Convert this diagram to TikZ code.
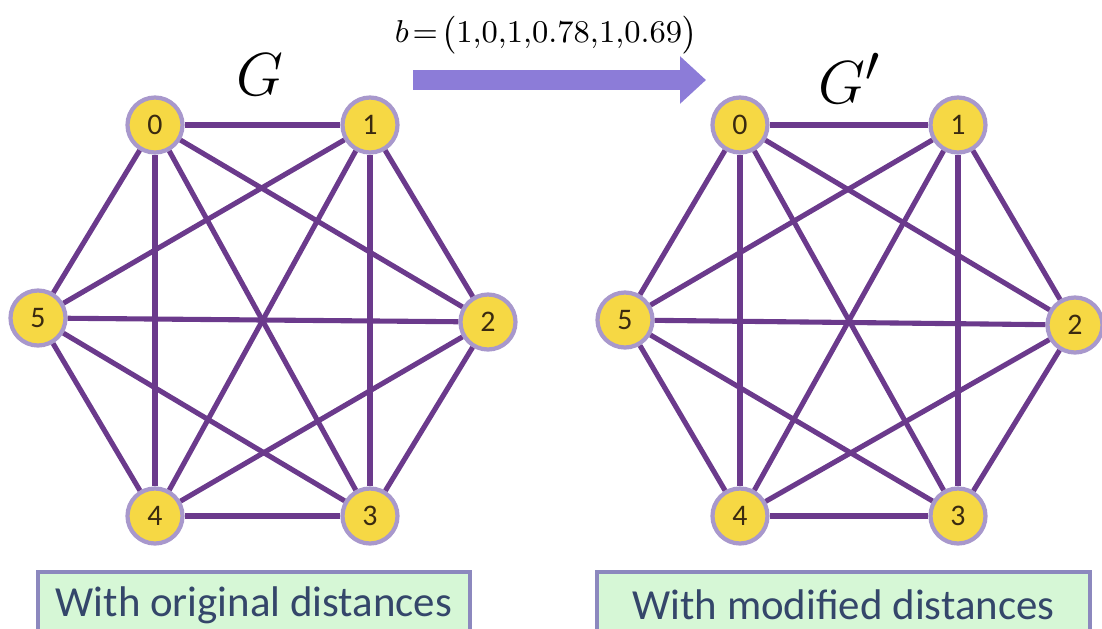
\documentclass[tikz,border=0pt]{standalone}
\usepackage{amsmath}
\usepackage{fontspec}
\setsansfont{Carlito}
\usepackage{xcolor}
\usetikzlibrary{arrows.meta}

\definecolor{edgepurple}{HTML}{6B3A8C}
\definecolor{nodeyellow}{HTML}{F6D844}
\definecolor{nodering}{HTML}{A898CC}
\definecolor{numbrown}{HTML}{3A2A10}
\definecolor{arrowblue}{HTML}{8C7CD8}
\definecolor{boxgreen}{HTML}{D6F7D6}
\definecolor{boxrim}{HTML}{8C88BE}
\definecolor{captext}{HTML}{34466A}

\begin{document}
\begin{tikzpicture}[
  vertex/.style={circle, fill=nodeyellow, draw=nodering, line width=1.2pt,
    minimum size=0.55cm, inner sep=0pt, text=numbrown,
    font=\sffamily\fontsize{8.5}{9}\selectfont},
  edge/.style={edgepurple, line width=1.45pt},
  caption/.style={draw=boxrim, fill=boxgreen, line width=0.9pt,
    minimum height=0.66cm, inner sep=0pt, text=captext,
    font=\sffamily\fontsize{12.2}{13}\selectfont}
]
  \clip (0,0) rectangle (11.02,6.28);

  % Left graph G: six vertices on a hexagon
  \node[vertex] (a0) at (1.55,5.03) {0};
  \node[vertex] (a1) at (3.70,5.03) {1};
  \node[vertex] (a2) at (4.88,3.06) {2};
  \node[vertex] (a3) at (3.70,1.12) {3};
  \node[vertex] (a4) at (1.55,1.12) {4};
  \node[vertex] (a5) at (0.38,3.10) {5};

  % Right graph G': same layout shifted
  \node[vertex] (b0) at (7.40,5.03) {0};
  \node[vertex] (b1) at (9.58,5.03) {1};
  \node[vertex] (b2) at (10.75,3.03) {2};
  \node[vertex] (b3) at (9.58,1.12) {3};
  \node[vertex] (b4) at (7.40,1.12) {4};
  \node[vertex] (b5) at (6.25,3.08) {5};

  % All pairs are joined in both graphs
  \foreach \i/\j in {0/1,0/2,0/3,0/4,0/5,1/2,1/3,1/4,1/5,2/3,2/4,2/5,3/4,3/5,4/5} {
    \draw[edge] (a\i) -- (a\j);
    \draw[edge] (b\i) -- (b\j);
  }

  % Graph names
  \node (gname) at (2.60,5.53) {\fontsize{19}{21}\selectfont$G$};
  \node (gpname) at (8.50,5.50) {\fontsize{19}{21}\selectfont$G'$};

  % Weight vector and arrow between the graphs
  \node[inner sep=1pt] (bvec) at (5.46,5.93) {\fontsize{9.3}{11}\selectfont$b\!=\!\bigl(1{,}0{,}1{,}0.78{,}1{,}0.69\bigr)$};
  \coordinate (arrstart) at (4.13,5.48);
  \coordinate (arrend) at (7.06,5.48);
  \draw[arrowblue, line width=0.2cm, -{Triangle[length=0.26cm, width=0.46cm]}] (arrstart) -- (arrend);

  % Captions
  \node[caption, minimum width=4.32cm] (capleft) at (2.54,0.23) {With original distances};
  \node[caption, minimum width=4.93cm] (capright) at (8.435,0.23) {With modified distances};
\end{tikzpicture}
\end{document}
